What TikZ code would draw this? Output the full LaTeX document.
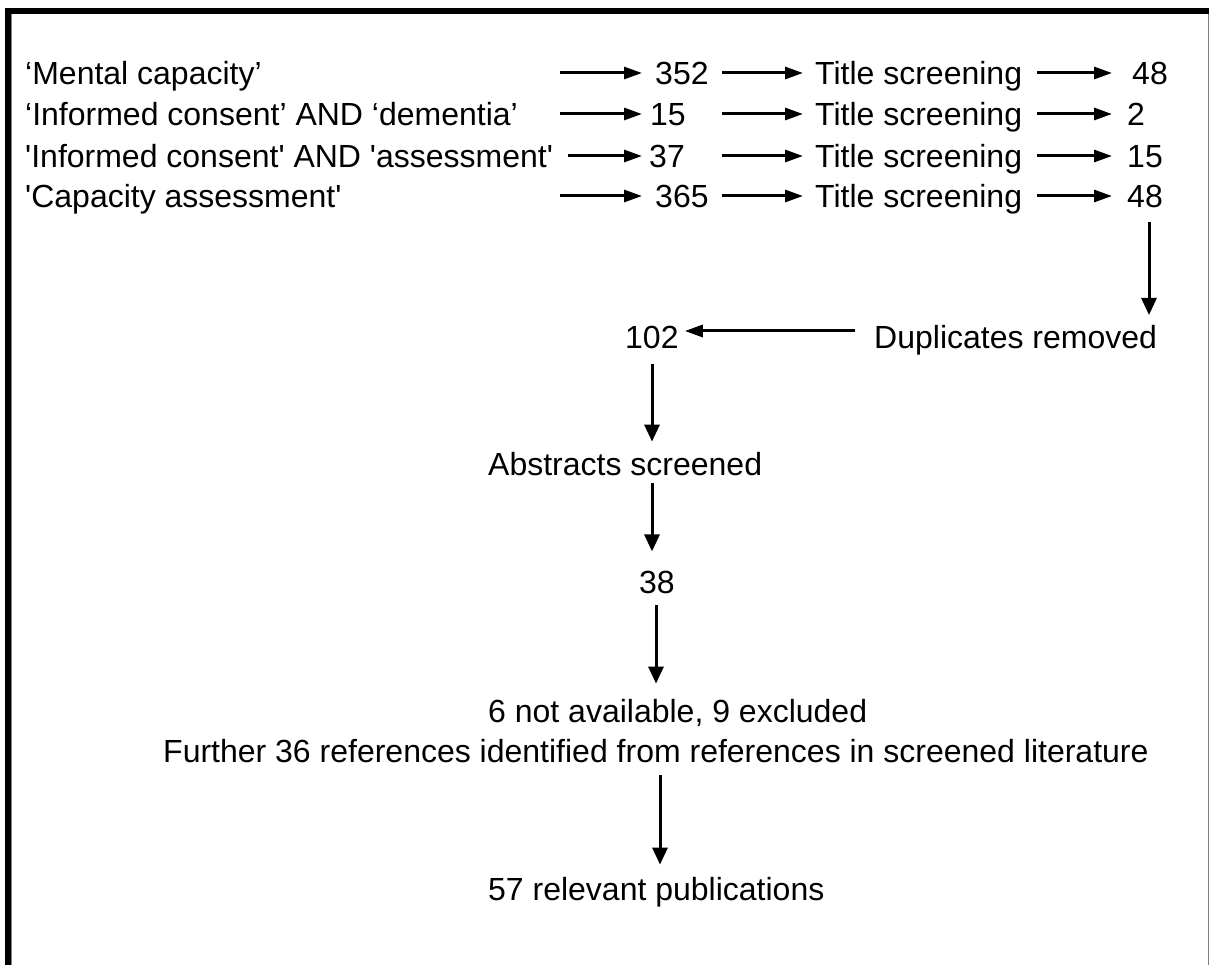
\documentclass[tikz,border=0pt]{standalone}
\usepackage{fontspec}
\setmainfont{Liberation Sans}
\usetikzlibrary{arrows.meta}
\begin{document}
\begin{tikzpicture}[x=1pt,y=-1pt,
  txt/.style={inner sep=0pt, font=\fontsize{32}{38}\selectfont, anchor=base west},
  harr/.style={line width=3pt, -{Triangle[length=18pt,width=12pt]}},
  varr/.style={line width=3pt, -{Triangle[length=17pt,width=15pt]}}]
\useasboundingbox (0,0) rectangle (1210,965);
% frame
\fill[black] (5,8) rectangle (1209,14);
\fill[black] (5,8) rectangle (11,965);
\draw[gray, line width=1pt] (11.5,14) -- (11.5,965);
\draw[gray, line width=1.2pt] (1208.5,14) -- (1208.5,965);
% search terms
\node[txt] (s1) at (25,85) {‘Mental capacity’};
\node[txt] (s2) at (25,126) {‘Informed consent’ AND ‘dementia’};
\node[txt] (s3) at (25,168) {\textquotesingle Informed consent\textquotesingle\ AND \textquotesingle assessment\textquotesingle};
\node[txt] (s4) at (25,208) {\textquotesingle Capacity assessment\textquotesingle};
% hits
\node[txt] (h1) at (655,85) {352};
\node[txt] (h2) at (650,126) {15};
\node[txt] (h3) at (649,168) {37};
\node[txt] (h4) at (655,208) {365};
% title screening
\node[txt] (t1) at (815,85) {Title screening};
\node[txt] (t2) at (815,126) {Title screening};
\node[txt] (t3) at (815,168) {Title screening};
\node[txt] (t4) at (815,208) {Title screening};
% results
\node[txt] (r1) at (1132,85) {48};
\node[txt] (r2) at (1127,126) {2};
\node[txt] (r3) at (1127,168) {15};
\node[txt] (r4) at (1127,208) {48};
% arrow starts
\coordinate (a1) at (560,73);
\coordinate (a2) at (560,114);
\coordinate (a3) at (568,156);
\coordinate (a4) at (560,196);
\coordinate (m1) at (722,73);
\coordinate (m2) at (722,114);
\coordinate (m3) at (722,156);
\coordinate (m4) at (722,196);
\coordinate (e1) at (1037,73);
\coordinate (e2) at (1037,114);
\coordinate (e3) at (1037,156);
\coordinate (e4) at (1037,196);
\draw[harr, shorten >=13pt] (a1) -- (a1 -| h1.west);
\draw[harr, shorten >=8pt] (a2) -- (a2 -| h2.west);
\draw[harr, shorten >=7pt] (a3) -- (a3 -| h3.west);
\draw[harr, shorten >=13pt] (a4) -- (a4 -| h4.west);
\draw[harr, shorten >=12pt] (m1) -- (m1 -| t1.west);
\draw[harr, shorten >=12pt] (m2) -- (m2 -| t2.west);
\draw[harr, shorten >=12pt] (m3) -- (m3 -| t3.west);
\draw[harr, shorten >=12pt] (m4) -- (m4 -| t4.west);
\draw[harr, shorten >=20pt] (e1) -- (e1 -| r1.west);
\draw[harr, shorten >=15pt] (e2) -- (e2 -| r2.west);
\draw[harr, shorten >=15pt] (e3) -- (e3 -| r3.west);
\draw[harr, shorten >=15pt] (e4) -- (e4 -| r4.west);
% lower part
\node[txt] (dup) at (874,349) {Duplicates removed};
\node[txt] (n102) at (625,349) {102};
\node[txt] (abs) at (488,475) {Abstracts screened};
\node[txt] (n38) at (639,593) {38};
\node[txt] (excl) at (488,722) {6 not available, 9 excluded};
\node[txt] (fur) at (163,762) {Further 36 references identified from references in screened literature};
\node[txt] (fin) at (488,900) {57 relevant publications};
\coordinate (d0) at (1149,222);
\coordinate (d1) at (1149,315);
\draw[varr] (d0) -- (d1);
\coordinate (k0) at (855,331);
\draw[harr, shorten >=6pt] (k0) -- (k0 -| n102.east);
\coordinate (v1) at (652,364);
\draw[varr, shorten >=10pt] (v1) -- (v1 |- abs.north);
\coordinate (v2) at (652,483);
\draw[varr, shorten >=19pt] (v2) -- (v2 |- n38.north);
\coordinate (v3) at (656,605);
\draw[varr, shorten >=15pt] (v3) -- (v3 |- excl.north);
\coordinate (v4) at (660,775);
\draw[varr, shorten >=12pt] (v4) -- (v4 |- fin.north);
\end{tikzpicture}
\end{document}
